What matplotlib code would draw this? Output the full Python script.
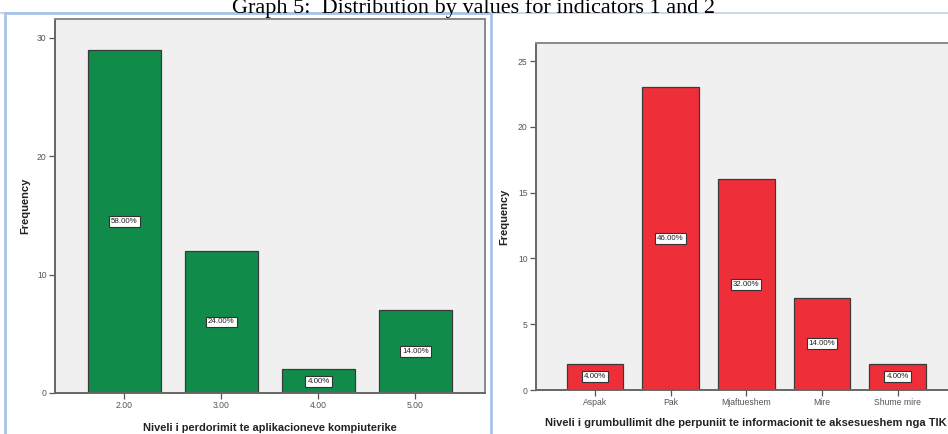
import matplotlib
matplotlib.use("Agg")
import matplotlib.pyplot as plt
from matplotlib.lines import Line2D

# Data
title = "Graph 5:  Distribution by values for indicators 1 and 2"
left_categories = ["2.00", "3.00", "4.00", "5.00"]
left_values = [29, 12, 2, 7]
left_xlabel = "Niveli i perdorimit te aplikacioneve kompiuterike"
right_categories = ["Aspak", "Pak", "Mjaftueshem", "Mire", "Shume mire"]
right_values = [2, 23, 16, 7, 2]
right_xlabel = "Niveli i grumbullimit dhe perpuniit te informacionit te aksesueshem nga TIK"
ylabel = "Frequency"

W, H = 948, 434
fig = plt.figure(figsize=(W / 100, H / 100), dpi=100)
fig.patch.set_facecolor("white")

def fx(px):
    return px / W

def fy(py):
    return 1 - py / H

SANS = ["Liberation Sans", "DejaVu Sans"]
GREEN = "#118B49"
RED = "#EE2F39"
BG = "#F0F0F0"

def make_panel(rect, cats, vals, color, xlim, ylim, yticks, xlabel, xlpad, ylpad, xlsize):
    ax = fig.add_axes(rect)
    ax.set_facecolor(BG)
    x = list(range(len(cats)))
    ax.bar(x, vals, width=0.75, color=color, edgecolor="#3a3a3a", linewidth=0.9, zorder=2)
    total = sum(vals)
    for xi, v in zip(x, vals):
        ax.text(xi, v / 2, f"{v / total * 100:.2f}%", ha="center", va="center",
                fontsize=5.7, family=SANS, color="#222222", zorder=3,
                bbox=dict(boxstyle="square,pad=0.25", facecolor="white",
                          edgecolor="#333333", linewidth=0.8))
    ax.set_xlim(*xlim)
    ax.set_ylim(*ylim)
    ax.set_yticks(yticks)
    ax.set_yticklabels([str(t) for t in yticks], fontsize=6.2, family=SANS, color="#555555")
    ax.set_xticks(x)
    ax.set_xticklabels(cats, fontsize=6.2, family=SANS, color="#555555")
    ax.tick_params(axis="both", direction="out", length=4, width=0.9, color="#555555", pad=2)
    for s in ax.spines.values():
        s.set_color("#8a8a8a")
        s.set_linewidth(1.4)
    ax.spines["bottom"].set_color("#666666")
    ax.spines["left"].set_color("#666666")
    ax.set_xlabel(xlabel, fontsize=xlsize, fontweight="bold", family=SANS, color="#222222", labelpad=xlpad)
    ax.set_ylabel(ylabel, fontsize=8, fontweight="bold", family=SANS, color="#222222", labelpad=ylpad)
    return ax

# Left panel
axL = make_panel([fx(55), fy(393), fx(485 - 55), (393 - 19) / H],
                 left_categories, left_values, GREEN,
                 (-0.716, 3.717), (0, 31.6), [0, 10, 20, 30], left_xlabel, 9, 5, 7.9)

# Right panel (extends past the right edge, cropped)
axR = make_panel([fx(536), fy(390), fx(956.5 - 536), (390 - 43) / H],
                 right_categories, right_values, RED,
                 (-0.78, 4.78), (0, 26.37), [0, 5, 10, 15, 20, 25], right_xlabel, 8, 6, 8.0)

# Blue page frames
blue = "#A8C3E6"
fig.add_artist(Line2D([fx(0), fx(W)], [fy(13), fy(13)], color="#BFD3EE", linewidth=1.2))
fig.add_artist(Line2D([fx(5), fx(491)], [fy(13), fy(13)], color=blue, linewidth=2))
fig.add_artist(Line2D([fx(5), fx(5)], [fy(13), fy(H)], color=blue, linewidth=2))
fig.add_artist(Line2D([fx(491), fx(491)], [fy(13), fy(H)], color=blue, linewidth=2))

# Title (cropped at top, as in the reference)
fig.text(0.5, fy(12.5), title, ha="center", va="baseline", fontsize=16,
         family=["Liberation Serif", "DejaVu Serif"], color="black")

fig.savefig("out.png", dpi=100, facecolor="white")
